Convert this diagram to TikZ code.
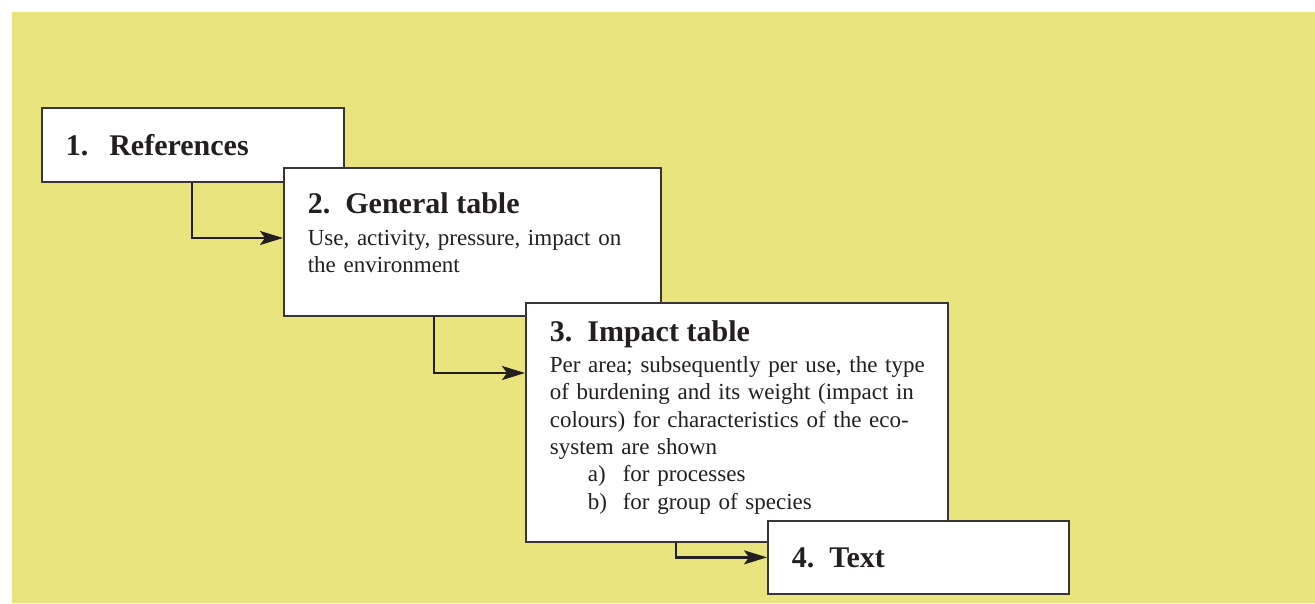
\documentclass[tikz,border=0pt]{standalone}
\usepackage{fontspec}
\setmainfont{Liberation Serif}
\usetikzlibrary{arrows.meta}

\definecolor{panel}{RGB}{233,228,126}
\definecolor{ink}{RGB}{35,31,32}

\newcommand{\stephead}[2]{{\fontsize{30}{32}\selectfont\bfseries #1.\hspace{.5em}#2}}
\newcommand{\stepitem}[2]{\hspace*{38pt}\makebox[35pt][l]{#1}#2}

\begin{document}
\begin{tikzpicture}[x=1pt,y=-1pt]

      \useasboundingbox (0,0) rectangle (1315,603);
      \fill[panel] (12,12) rectangle (1315,603);

      \begin{scope}[every node/.style={draw=ink!90,line width=1.7pt,fill=white,anchor=north west,
          inner xsep=24pt,align=left,text=ink,font=\fontsize{23}{27.4}\selectfont}]
        \node[minimum width=302pt,minimum height=74pt,text width=254pt] (b1) at (41,107)
          {\stephead{1}{\hspace{.2em}References}};
        \node[minimum width=377pt,minimum height=148pt,text width=329pt] (b2) at (283,167)
          {\stephead{2}{General table}\\[4pt]
           Use, activity, pressure, impact on\\
           the environment\\[-9pt]\mbox{}};
        \node[minimum width=422pt,minimum height=239pt,text width=374pt] (b3) at (525,302)
          {\stephead{3}{Impact table}\\[3pt]
           \mbox{Per area; subsequently per use, the type}\\
           of burdening and its weight (impact in\\
           colours) for characteristics of the eco-\\
           system are shown\\
           \stepitem{a)}{for processes}\\
           \stepitem{b)}{for group of species}\\[-13pt]\mbox{}};
        \node[minimum width=301pt,minimum height=73pt,text width=253pt] (b4) at (767,520)
          {\stephead{4}{Text}};
      \end{scope}

      \coordinate (s1) at ([xshift=151pt]b1.south west);
      \coordinate (s2) at ([xshift=151pt]b2.south west);
      \coordinate (s3) at ([xshift=151pt]b3.south west);
      \coordinate (t1) at ([yshift=-71pt]b2.north west);
      \coordinate (t2) at ([yshift=-71pt]b3.north west);

      \begin{scope}[every edge/.style={draw=ink,line width=2.4pt,
          -{Stealth[length=23pt,width=14pt,inset=5pt]},to path={|- (\tikztotarget)}}]
        \path (s1) edge (t1);
        \path (s2) edge (t2);
        \path (s3) edge (b4.west);
      \end{scope}

    \end{tikzpicture}
\end{document}
